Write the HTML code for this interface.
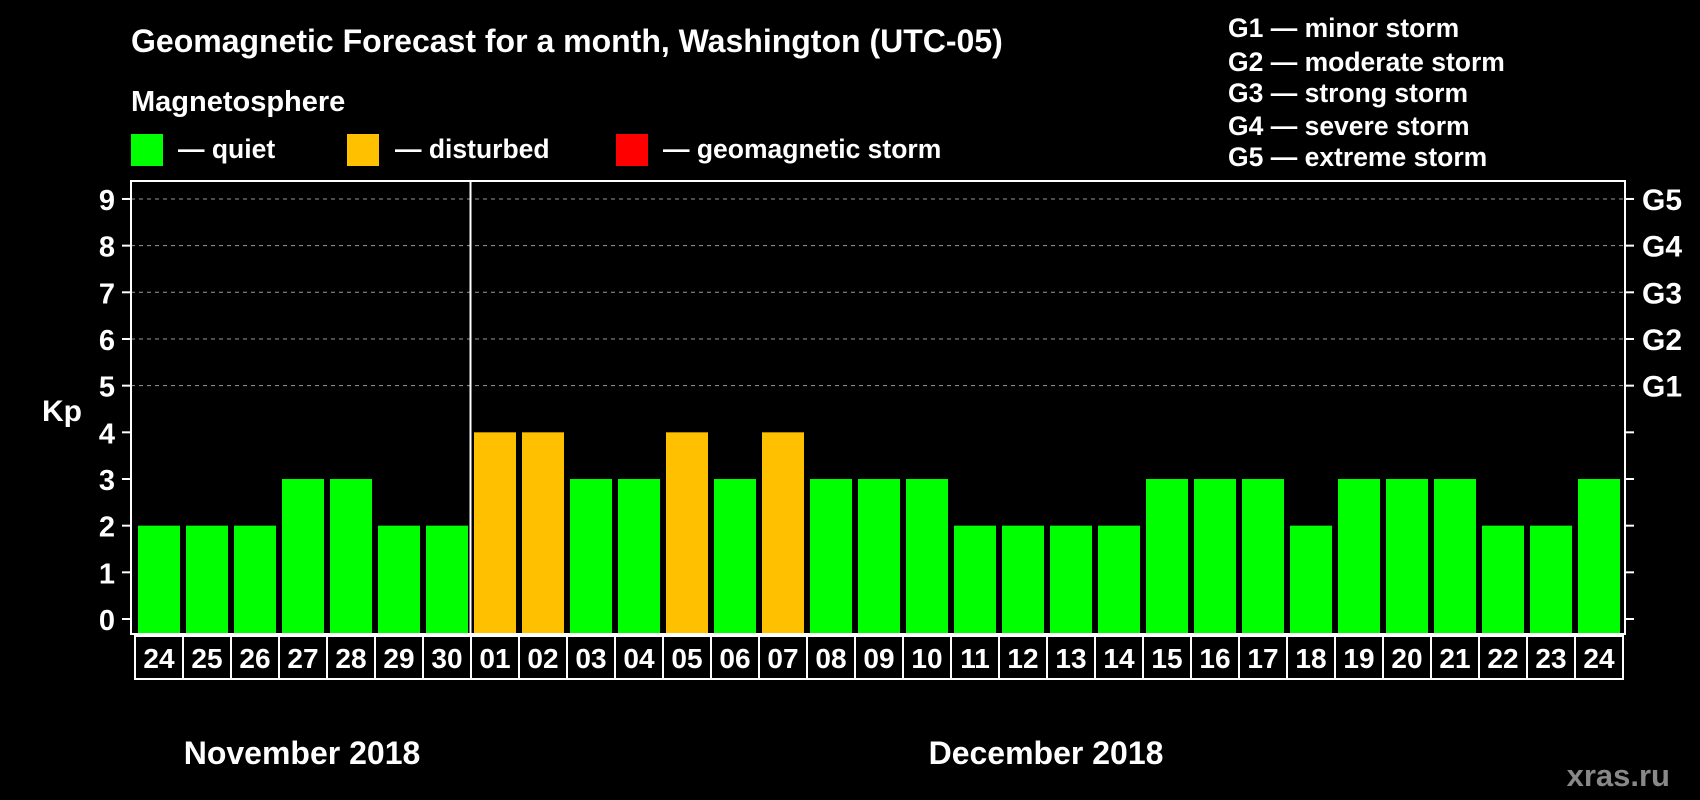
<!DOCTYPE html>
<html><head><meta charset="utf-8"><style>
html,body{margin:0;padding:0;background:#000;}
svg{display:block;font-family:"Liberation Sans",Arial,sans-serif;font-weight:bold;}
</style></head><body>
<svg id="chart" width="1700" height="800" viewBox="0 0 1700 800" xmlns="http://www.w3.org/2000/svg">
<rect width="1700" height="800" fill="#000"/>
<text x="131" y="52" fill="#fff" font-size="32">Geomagnetic Forecast for a month, Washington (UTC-05)</text>
<text x="131" y="111" fill="#fff" font-size="29">Magnetosphere</text>
<g><rect x="131" y="134" width="32" height="32" fill="#00ff00"/><text x="178" y="158" fill="#fff" font-size="26.5">— quiet</text></g>
<g><rect x="347" y="134" width="32" height="32" fill="#ffc000"/><text x="395" y="158" fill="#fff" font-size="26.5">— disturbed</text></g>
<g><rect x="616" y="134" width="32" height="32" fill="#ff0000"/><text x="663" y="158" fill="#fff" font-size="26.5">— geomagnetic storm</text></g>
<g fill="#fff" font-size="26.5">
<text x="1228" y="37">G1 — minor storm</text>
<text x="1228" y="71">G2 — moderate storm</text>
<text x="1228" y="102">G3 — strong storm</text>
<text x="1228" y="135">G4 — severe storm</text>
<text x="1228" y="166">G5 — extreme storm</text>
</g>
<g id="grid"></g>
<g id="bars"></g>
<g id="axes"></g>
<text x="62" y="421" fill="#fff" font-size="30" text-anchor="middle">Kp</text>
<text x="302" y="764" fill="#fff" font-size="32" text-anchor="middle">November 2018</text>
<text x="1046" y="764" fill="#fff" font-size="32" text-anchor="middle">December 2018</text>
<text x="1670" y="786" fill="#888" font-size="31" text-anchor="end">xras.ru</text>
</svg>
<script>
const days = ["24","25","26","27","28","29","30","01","02","03","04","05","06","07","08","09","10","11","12","13","14","15","16","17","18","19","20","21","22","23","24"];
const kpValues = [2,2,2,3,3,2,2,4,4,3,3,4,3,4,3,3,3,2,2,2,2,3,3,3,2,3,3,3,2,2,3];
const yTicks = [0,1,2,3,4,5,6,7,8,9];
const gLabels = ["G1","G2","G3","G4","G5"];
const gLevels = [5,6,7,8,9];
const NS="http://www.w3.org/2000/svg";
const plotLeft=131,plotRight=1625,plotTop=181,plotBottom=634;
const yScale=v=>619-v*46.67;
const xScale=i=>135+i*48;
function mk(tag,attrs,parent,txt){const e=document.createElementNS(NS,tag);for(const k in attrs)e.setAttribute(k,attrs[k]);if(txt!==undefined)e.textContent=txt;parent.appendChild(e);return e;}
const gridG=document.getElementById('grid'),barsG=document.getElementById('bars'),axesG=document.getElementById('axes');
gLevels.forEach((v,i)=>{
  const l=mk('line',{x1:plotLeft,x2:plotRight,y1:yScale(v),y2:yScale(v),stroke:'#999','stroke-dasharray':'4,4','stroke-width':1},gridG);
  
  
  const t=mk('text',{x:1642,y:yScale(v)+11,fill:'#fff','font-size':30},axesG,gLabels[i]);
  
  
});
kpValues.forEach((v,i)=>{
  const col=v>=5?'#ff0000':(v>=4?'#ffc000':'#00ff00');
  const r=mk('rect',{x:xScale(i)+3,y:yScale(v),width:42,height:plotBottom-yScale(v),fill:col},barsG);
  
  
  const c=mk('rect',{x:xScale(i),y:636,width:48,height:43,fill:'none',stroke:'#fff','stroke-width':2},axesG);
  
  
  const t=mk('text',{x:xScale(i)+24,y:668,fill:'#fff','font-size':28,'text-anchor':'middle'},axesG,days[i]);
  
  
});
const box=mk('rect',{x:plotLeft,y:plotTop,width:plotRight-plotLeft,height:plotBottom-plotTop,fill:'none',stroke:'#fff','stroke-width':2},axesG);


const sep=mk('line',{x1:xScale(7)-0.5,x2:xScale(7)-0.5,y1:plotTop,y2:plotBottom,stroke:'#fff','stroke-width':2},axesG);


yTicks.forEach(v=>{
  const a=mk('line',{x1:122,x2:plotLeft,y1:yScale(v),y2:yScale(v),stroke:'#fff','stroke-width':2},axesG);
  
  
  const b=mk('line',{x1:plotRight,x2:1634,y1:yScale(v),y2:yScale(v),stroke:'#fff','stroke-width':2},axesG);
  
  
  const t=mk('text',{x:115,y:yScale(v)+11,fill:'#fff','font-size':29,'text-anchor':'end'},axesG,String(v));
  
  
});
</script>
</body></html>
